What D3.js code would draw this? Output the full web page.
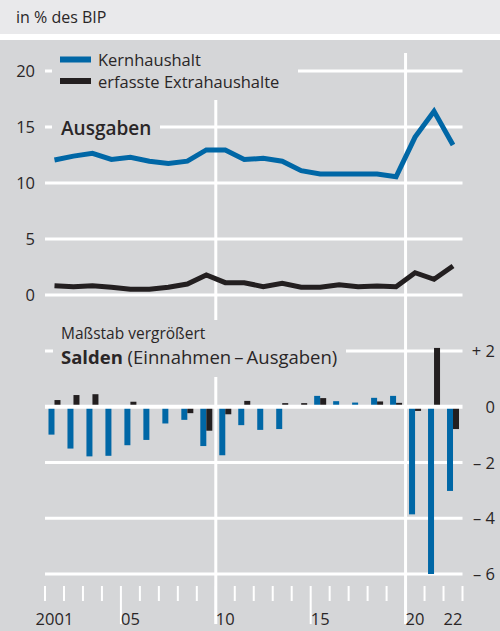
<!DOCTYPE html>
<html>
<head>
<meta charset="utf-8">
<script src="https://cdn.jsdelivr.net/npm/d3@7"></script>
<style>
body { margin: 0; background: #fff; }
svg { display: block; }
text { font-family: "Open Sans", sans-serif; fill: #2a2627; }
</style>
</head>
<body>
<div id="chart"></div>
<script>
// Staatshaushalt in % des BIP, 2001-2022
var years = [2001, 2002, 2003, 2004, 2005, 2006, 2007, 2008, 2009, 2010, 2011,
             2012, 2013, 2014, 2015, 2016, 2017, 2018, 2019, 2020, 2021, 2022];

// Ausgaben
var kernAusgaben = [12.05, 12.4, 12.65, 12.1, 12.3, 11.95, 11.75, 11.95, 12.95, 12.95, 12.1,
                    12.2, 11.95, 11.1, 10.8, 10.8, 10.8, 10.8, 10.55, 14.1, 16.4, 13.4];
var extraAusgaben = [0.83, 0.74, 0.83, 0.69, 0.51, 0.51, 0.69, 0.98, 1.79, 1.1, 1.1,
                     0.74, 1.04, 0.69, 0.69, 0.92, 0.74, 0.8, 0.74, 1.99, 1.4, 2.59];

// Salden (Einnahmen - Ausgaben)
var kernSaldo = [-1.0, -1.5, -1.78, -1.76, -1.38, -1.19, -0.6, -0.47, -1.41, -1.74, -0.66,
                 -0.83, -0.8, 0.0, 0.39, 0.2, 0.15, 0.32, 0.39, -3.86, -6.0, -3.02];
var extraSaldo = [0.24, 0.42, 0.45, 0.0, 0.18, 0.0, -0.04, -0.23, -0.86, -0.27, 0.21,
                  0.0, 0.13, 0.13, 0.31, 0.0, 0.0, 0.19, 0.14, -0.15, 2.11, -0.8];

var topTicks = [0, 5, 10, 15, 20];
var bottomTicks = [2, 0, -2, -4, -6];
var bottomTickLabels = ["+ 2", "0", "\u2013 2", "\u2013 4", "\u2013 6"];
var xLabelYears = [2001, 2005, 2010, 2015, 2020, 2022];
var xLabels = ["2001", "05", "10", "15", "20", "22"];

var blue = "#0067a6";
var black = "#231f20";
var panel = "#d5d6d8";

var svgWidth = 500;
var svgHeight = 631;

var svg = d3.select("#chart")
    .append("svg")
    .attr("width", svgWidth)
    .attr("height", svgHeight);

// header + panel
svg.append("rect").attr("x", 0).attr("y", 0).attr("width", svgWidth).attr("height", 34).attr("fill", "#e9e9eb");
svg.append("rect").attr("x", 0).attr("y", 40).attr("width", svgWidth).attr("height", svgHeight - 40).attr("fill", panel);
svg.append("text").attr("x", 16).attr("y", 23).style("font-size", "16px").text("in % des BIP");

var x = d3.scaleBand().domain(years).range([45, 462.5]).padding(0);
var yTop = d3.scaleLinear().domain([0, 20]).range([295, 71]);
var yBot = d3.scaleLinear().domain([-6, 2]).range([574, 351]);

var gridGroup = svg.append("g").attr("stroke", "#fff");

// horizontal gridlines
gridGroup.selectAll(".gtop").data(topTicks).enter().append("line")
    .attr("x1", 45).attr("x2", 462.5)
    .attr("y1", d => yTop(d)).attr("y2", d => yTop(d))
    .attr("stroke-width", 3);
gridGroup.selectAll(".gbot").data(bottomTicks.filter(d => d !== 0)).enter().append("line")
    .attr("x1", 45).attr("x2", 462.5)
    .attr("y1", d => yBot(d)).attr("y2", d => yBot(d))
    .attr("stroke-width", 3);

// vertical lines at 2010 and 2020
gridGroup.selectAll(".gv").data([2010, 2020]).enter().append("line")
    .attr("x1", d => x(d)).attr("x2", d => x(d))
    .attr("y1", 53).attr("y2", 624)
    .attr("stroke-width", 3);

// x ticks at every band boundary
var bounds = years.map(d => x(d)).concat([x(2022) + x.bandwidth()]);
gridGroup.selectAll(".xt").data(bounds).enter().append("line")
    .attr("x1", d => d).attr("x2", d => d)
    .attr("y1", 586)
    .attr("y2", (d, i) => (i % 5 === 4) ? 624 : 601)
    .attr("stroke-width", 2);

// text backgrounds hiding the grid
svg.append("rect").attr("x", 52).attr("y", 45).attr("width", 246).attr("height", 55).attr("fill", panel);
svg.append("rect").attr("x", 52).attr("y", 115).attr("width", 108).attr("height", 26).attr("fill", panel);
svg.append("rect").attr("x", 53).attr("y", 320).attr("width", 293).attr("height", 57).attr("fill", panel);

// axis labels
svg.selectAll(".ylt").data(topTicks).enter().append("text")
    .attr("x", 35).attr("y", d => yTop(d) + 6)
    .attr("text-anchor", "end")
    .style("font-size", "16.5px")
    .text(d => d);
svg.selectAll(".ylb").data(bottomTicks).enter().append("text")
    .attr("x", 495).attr("y", d => yBot(d) + 6)
    .attr("text-anchor", "end")
    .style("font-size", "16.5px")
    .text((d, i) => bottomTickLabels[i]);
svg.selectAll(".xl").data(xLabelYears).enter().append("text")
    .attr("x", d => x(d) + x.bandwidth() / 2).attr("y", 625)
    .attr("text-anchor", "middle")
    .style("font-size", "16.5px")
    .text((d, i) => xLabels[i]);

// legend
var legend = [{name: "Kernhaushalt", color: blue}, {name: "erfasste Extrahaushalte", color: black}];
var lg = svg.selectAll(".lg").data(legend).enter().append("g")
    .attr("transform", (d, i) => `translate(60,${59.5 + i * 21.5})`);
lg.append("rect").attr("x", 0).attr("y", -3).attr("width", 31).attr("height", 6).attr("fill", d => d.color);
lg.append("text").attr("x", 38).attr("y", 6.5).style("font-size", "16.5px").text(d => d.name);

svg.append("text").attr("x", 61).attr("y", 135).style("font-size", "19px").style("font-weight", 600).text("Ausgaben");
svg.append("text").attr("x", 61).attr("y", 339).style("font-size", "15.5px").text("Maßstab vergrößert");
var st = svg.append("text").attr("x", 61).attr("y", 364).style("font-size", "18.5px");
st.append("tspan").style("font-weight", 700).text("Salden");
st.append("tspan").text(" (Einnahmen\u2009\u2013\u2009Ausgaben)");

// Ausgaben lines
var line = d3.line()
    .x((d, i) => x(years[i]) + x.bandwidth() / 2)
    .y(d => yTop(d));

svg.append("path").datum(kernAusgaben)
    .attr("d", line).attr("fill", "none")
    .attr("stroke", blue).attr("stroke-width", 5);
svg.append("path").datum(extraAusgaben)
    .attr("d", line).attr("fill", "none")
    .attr("stroke", black).attr("stroke-width", 5);

// Salden bars
var barW = 6;
svg.selectAll(".bk").data(kernSaldo).enter().append("rect")
    .attr("x", (d, i) => x(years[i]) + x.bandwidth() / 2 - barW)
    .attr("y", d => yBot(Math.max(0, d)))
    .attr("width", barW)
    .attr("height", d => Math.abs(yBot(d) - yBot(0)))
    .attr("fill", blue);
svg.selectAll(".be").data(extraSaldo).enter().append("rect")
    .attr("x", (d, i) => x(years[i]) + x.bandwidth() / 2)
    .attr("y", d => yBot(Math.max(0, d)))
    .attr("width", barW)
    .attr("height", d => Math.abs(yBot(d) - yBot(0)))
    .attr("fill", black);

// zero line on top
svg.append("line")
    .attr("x1", 45).attr("x2", 462.5)
    .attr("y1", yBot(0)).attr("y2", yBot(0))
    .attr("stroke", "#fff").attr("stroke-width", 4);
</script>
</body>
</html>
